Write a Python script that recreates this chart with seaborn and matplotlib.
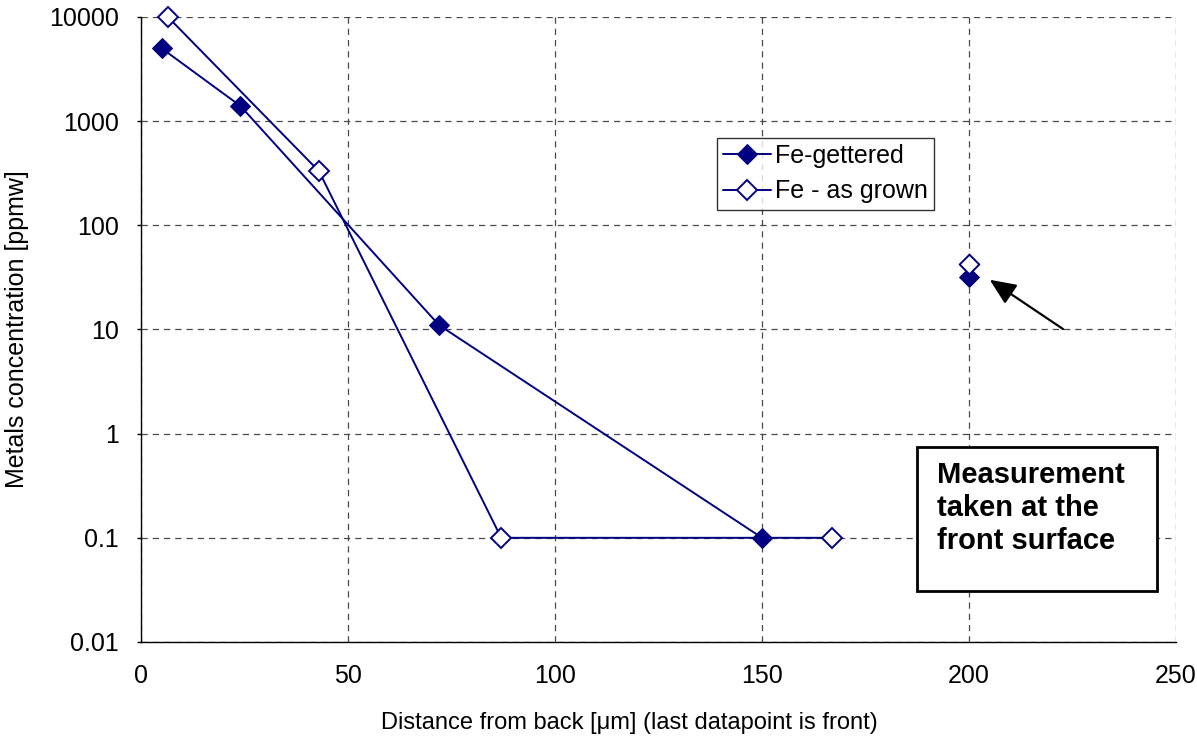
import matplotlib
matplotlib.use("Agg")
import matplotlib.pyplot as plt
import pandas as pd
import seaborn as sns
from matplotlib.patches import Rectangle

# 数据：距背面距离 (µm) 与金属浓度 (ppmw)，最后一点为正面测量
gettered_x = [5, 24, 72, 150]
gettered_y = [5000, 1400, 11, 0.1]
grown_x = [6.5, 43, 87, 167]
grown_y = [10000, 330, 0.1, 0.1]
front_x = [200, 200]
front_y = [32, 43]
front_series = ["Fe-gettered", "Fe - as grown"]

x_ticks = [0, 50, 100, 150, 200, 250]
y_ticks = [0.01, 0.1, 1, 10, 100, 1000, 10000]
y_labels = ["0.01", "0.1", "1", "10", "100", "1000", "10000"]

NAVY = "#000080"

sns.set_style("white")
plt.rcParams["font.family"] = ["Liberation Sans", "DejaVu Sans"]
plt.rcParams.update({"text.color": "black", "axes.labelcolor": "black",
                     "xtick.color": "black", "ytick.color": "black"})

gettered = pd.DataFrame({"x": gettered_x, "y": gettered_y})
grown = pd.DataFrame({"x": grown_x, "y": grown_y})
front = pd.DataFrame({"x": front_x, "y": front_y, "series": front_series})

fig = plt.figure(figsize=(11.97, 7.42), dpi=100)
ax = fig.add_axes([0.1178, 0.1348, 0.8647, 0.8423])

sns.lineplot(data=gettered, x="x", y="y", ax=ax, color=NAVY, lw=1.4,
             marker="D", markersize=10, markerfacecolor=NAVY, markeredgecolor=NAVY,
             label="Fe-gettered", zorder=3, clip_on=False)
sns.lineplot(data=grown, x="x", y="y", ax=ax, color=NAVY, lw=1.4,
             marker="D", markersize=10, markerfacecolor="white", markeredgecolor=NAVY,
             markeredgewidth=1.4, label="Fe - as grown", zorder=3, clip_on=False)

g = front[front["series"] == "Fe-gettered"]
a = front[front["series"] == "Fe - as grown"]
sns.scatterplot(data=g, x="x", y="y", ax=ax, marker="D", s=100, color=NAVY,
                edgecolor=NAVY, zorder=4, legend=False)
sns.scatterplot(data=a, x="x", y="y", ax=ax, marker="D", s=100, facecolor="white",
                edgecolor=NAVY, linewidth=1.4, zorder=4, legend=False)

ax.set_yscale("log")
ax.set_xlim(0, 250)
ax.set_ylim(0.01, 10000)
ax.set_xticks(x_ticks)
ax.set_xticklabels([str(t) for t in x_ticks])
ax.set_yticks(y_ticks)
ax.set_yticklabels(y_labels)
ax.minorticks_off()
ax.tick_params(axis="x", length=0, labelsize=18, pad=16)
ax.tick_params(axis="y", left=True, direction="out", length=3, width=1,
               labelsize=18, pad=13)

ax.grid(True, which="major", color="#4a4a4a", ls=(0, (5, 4)), lw=0.9)
for side in ["top", "right"]:
    ax.spines[side].set_visible(False)
for side in ["left", "bottom"]:
    ax.spines[side].set_color("black")
    ax.spines[side].set_linewidth(1.0)

ax.set_xlabel("Distance from back [\u03bcm] (last datapoint is front)", fontsize=17)
ax.xaxis.set_label_coords(0.472, -0.112)
ax.set_ylabel("Metals concentration [ppmw]", fontsize=18, labelpad=14)

leg = ax.legend(loc="upper left", bbox_to_anchor=(0.5565, 0.8064), fontsize=18,
                frameon=True, fancybox=False, edgecolor="black", handlelength=1.9,
                borderpad=0.25, borderaxespad=0, labelspacing=0.45, handletextpad=0.15)
leg.get_frame().set_linewidth(1.0)

ax.annotate("", xy=(205, 30), xytext=(222.7, 10.1),
            arrowprops=dict(arrowstyle="-|>,head_length=0.8,head_width=0.35",
                            color="black", lw=1.6, mutation_scale=20, shrinkA=0, shrinkB=0))

ax.add_patch(Rectangle((0.7498, 0.0816), 0.2319, 0.2304, transform=ax.transAxes,
                       facecolor="white", edgecolor="black", lw=2, zorder=5))
ax.text(0.769, 0.289, "Measurement\ntaken at the\nfront surface", transform=ax.transAxes,
        fontsize=21, fontweight="bold", va="top", ha="left", linespacing=1.22, zorder=6)

fig.savefig("out.png", dpi=100)
